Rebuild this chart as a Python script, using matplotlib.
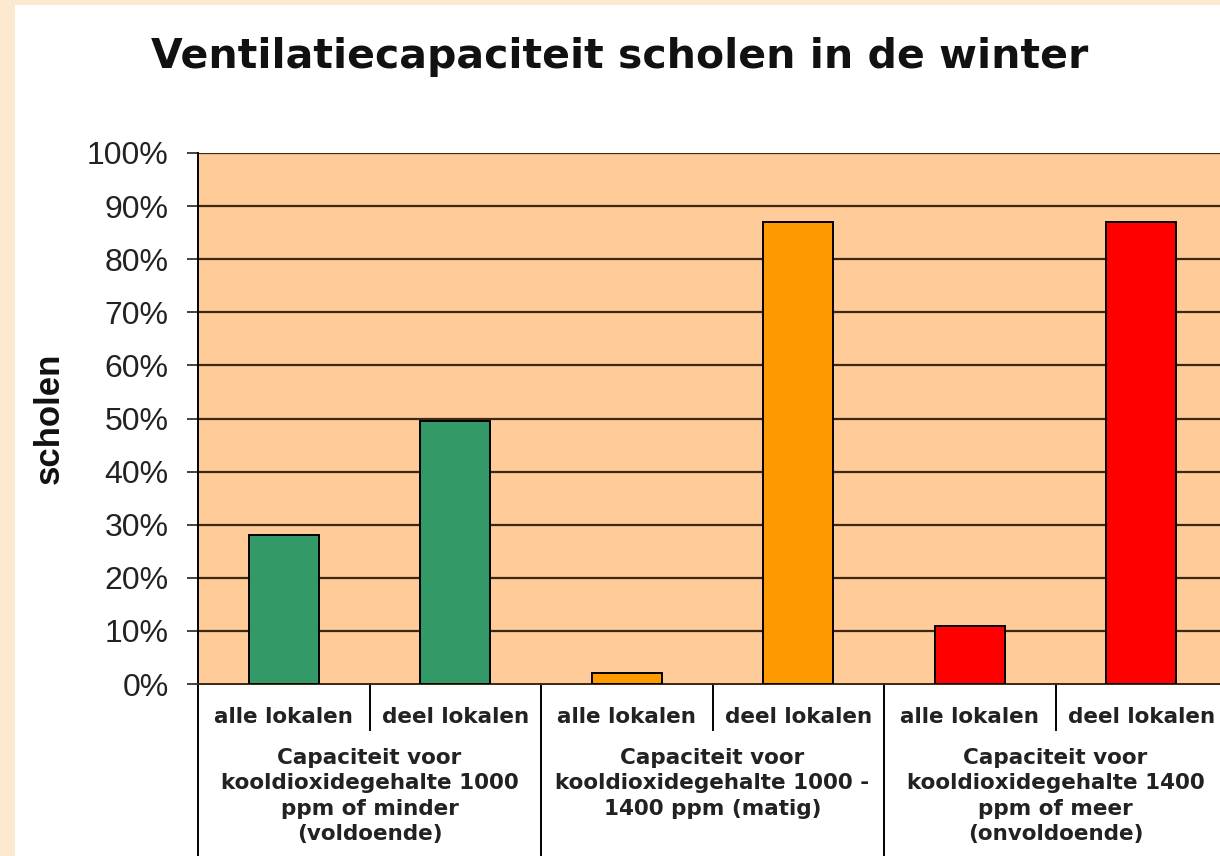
import matplotlib.pyplot as plt
import matplotlib.transforms as mtransforms
from matplotlib.patches import Rectangle

peach_out  = [253/255, 232/255, 208/255]
plot_bg    = [255/255, 204/255, 153/255]
green      = [51 /255, 153/255, 102/255]
orange     = [255/255, 153/255, 0  /255]
red        = [255/255, 0  /255, 0  /255]
grid_col   = [60 /255, 40 /255, 20 /255]

title = "Ventilatiecapaciteit scholen in de winter"
sub_labels = ["alle lokalen", "deel lokalen"] * 3
group_labels = [
    "Capaciteit voor\nkooldioxidegehalte 1000\nppm of minder\n(voldoende)",
    "Capaciteit voor\nkooldioxidegehalte 1000 -\n1400 ppm (matig)",
    "Capaciteit voor\nkooldioxidegehalte 1400\nppm of meer\n(onvoldoende)",
]
values = [28, 49.5, 2, 87, 11, 87]
bar_colors = [green, green, orange, orange, red, red]
yticks = list(range(0, 101, 10))

fig = plt.figure(figsize=(12.2, 8.56), dpi=100)
fig.patch.set_facecolor(peach_out)
fig.patches.append(Rectangle((15/1220, 0), 1 - 15/1220, 1 - 5/856,
                             transform=fig.transFigure, facecolor="white",
                             edgecolor="none", zorder=-5))

ax = fig.add_axes([198/1220, 1 - 684/856, 1029/1220, 531/856])
ax.set_facecolor(plot_bg)

x = list(range(len(values)))
ax.bar(x, values, width=0.41, color=bar_colors, edgecolor="black",
       linewidth=1.4, zorder=3)
ax.set_xlim(-0.5, len(values) - 0.5)
ax.set_ylim(0, 100)
ax.set_yticks(yticks)
ax.set_yticklabels([f"{v}%" for v in yticks], fontsize=23,
                   family="Liberation Sans", color="#222222")
ax.tick_params(axis="y", length=8, width=1.2, pad=13, color="#222222")
ax.tick_params(axis="x", length=0, labelbottom=False)
for v in yticks[1:]:
    ax.axhline(v, color=grid_col, linewidth=1.6, zorder=1)
for s in ["top", "right"]:
    ax.spines[s].set_visible(False)
ax.spines["left"].set_linewidth(1.4)
ax.spines["bottom"].set_linewidth(1.4)
ax.spines["bottom"].set_color(grid_col)

fig.text(49/1220, 1 - 418/856, "scholen", rotation=90, ha="center",
         va="center", fontsize=25, fontweight="bold",
         family="Liberation Sans", color="#111111")

fig.text(620/1220, 1 - 57/856, title, ha="center", va="center",
         fontsize=29.5, fontweight="bold", family="DejaVu Sans", color="#111111")

trans = mtransforms.blended_transform_factory(ax.transData, fig.transFigure)
for i, lab in enumerate(sub_labels):
    ax.text(i, 1 - 717/856, lab, transform=trans, ha="center", va="center",
            fontsize=15.5, fontweight="bold", color="#222222", clip_on=False)
for g, lab in enumerate(group_labels):
    ax.text(2 * g + 0.5, 1 - 748/856, lab, transform=trans, ha="center",
            va="top", fontsize=15.5, fontweight="bold", color="#222222",
            linespacing=1.33, clip_on=False)

# separators under the axis
for b in range(7):
    xb = b - 0.5
    y_end = 0 if b % 2 == 0 else 1 - 730/856
    ax.plot([xb, xb], [1 - 684/856, y_end], transform=trans, color="black",
            linewidth=1.4, clip_on=False)

plt.savefig("out.png", dpi=100, facecolor=fig.get_facecolor())
plt.close()
